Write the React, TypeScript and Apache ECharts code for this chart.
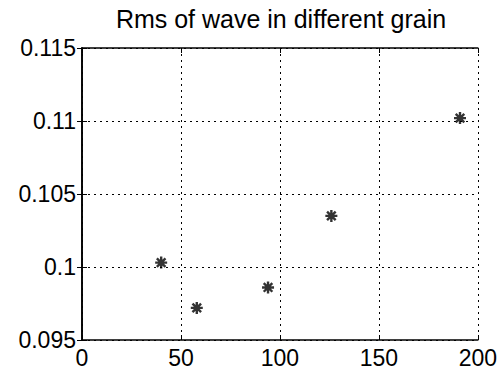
import React, { useEffect, useRef } from "react";
import * as echarts from "echarts";

const grainX = [40, 58, 94, 126, 191];
const rmsY = [0.1003, 0.0972, 0.0986, 0.1035, 0.1102];
const xTicks = { min: 0, max: 200, interval: 50 };
const yTicks = { min: 0.095, max: 0.115, interval: 0.005 };
const titleText = "Rms of wave in different grain";

const FONT = "'Liberation Sans', Arial, Helvetica, sans-serif";
const STAR = "path://M0,-6L0,6M-6,0L6,0M-4.3,-4.3L4.3,4.3M-4.3,4.3L4.3,-4.3";

export default function App() {
  const ref = useRef<HTMLDivElement>(null);
  useEffect(() => {
    document.body.style.margin = "0";
    const chart = echarts.init(ref.current!, null, { renderer: "svg" });
    const fmtY = (v: number) => String(parseFloat(v.toFixed(3)));
    const gridLine = { show: true, lineStyle: { color: "#000", width: 1, type: [2, 4] as any } };
    const axisLineStyle = { show: true, lineStyle: { color: "#000", width: 1.6 } };
    const tickIn = { show: true, inside: true, length: 5, lineStyle: { color: "#000", width: 1 } };
    const label = { color: "#000", fontSize: 23, fontFamily: FONT };
    chart.setOption({
      animation: false,
      backgroundColor: "#fff",
      grid: { left: 82, right: 19, top: 48, bottom: 29, containLabel: false },
      graphic: [
        {
          type: "text",
          x: 281,
          y: 6,
          style: {
            text: titleText,
            fill: "#000",
            font: `25px ${FONT}`,
            textAlign: "center",
            textVerticalAlign: "top",
          },
        },
      ],
      xAxis: [
        {
          type: "value",
          ...xTicks,
          position: "bottom",
          axisLine: axisLineStyle,
          axisTick: tickIn,
          splitLine: gridLine,
          axisLabel: { ...label, margin: 6 },
        },
        {
          type: "value",
          ...xTicks,
          position: "top",
          axisLine: axisLineStyle,
          axisTick: tickIn,
          splitLine: { show: false },
          axisLabel: { show: false },
        },
      ],
      yAxis: [
        {
          type: "value",
          ...yTicks,
          position: "left",
          axisLine: axisLineStyle,
          axisTick: tickIn,
          splitLine: gridLine,
          axisLabel: { ...label, margin: 6, formatter: fmtY },
        },
        {
          type: "value",
          ...yTicks,
          position: "right",
          axisLine: axisLineStyle,
          axisTick: tickIn,
          splitLine: { show: false },
          axisLabel: { show: false },
        },
      ],
      series: [
        {
          type: "scatter",
          xAxisIndex: 0,
          yAxisIndex: 0,
          data: grainX.map((x, i) => [x, rmsY[i]]),
          symbol: STAR,
          symbolSize: 12,
          itemStyle: { color: "transparent", borderColor: "#000", borderWidth: 2.4 },
        },
      ],
    });
    return () => chart.dispose();
  }, []);
  return <div ref={ref} style={{ width: 500, height: 369 }} />;
}
